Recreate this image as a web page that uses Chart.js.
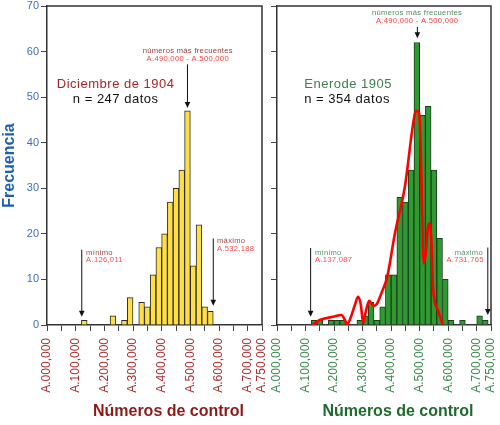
<!DOCTYPE html>
<html><head><meta charset="utf-8">
<script src="https://cdn.jsdelivr.net/npm/chart.js@4.4.0/dist/chart.umd.min.js"></script>
<style>
html,body{margin:0;padding:0;background:#fff;}
#wrap{position:relative;width:500px;height:425px;overflow:hidden;background:#fff;}
#c1{position:absolute;left:0;top:0;}
#c2{position:absolute;left:265px;top:0;}
</style></head><body>
<div id="wrap"><canvas id="c1" width="265" height="425"></canvas><canvas id="c2" width="235" height="425"></canvas></div>
<script>
// ---- data ----
const binWidth = 20000;
const decBinStarts = [120000,220000,260000,280000,320000,340000,360000,380000,400000,420000,440000,460000,480000,500000,520000,540000,560000];
const decCounts    = [1,2,1,6,5,4,11,17,20,27,30,34,47,13,22,4,3];
const janBinStarts = [120000,140000,180000,200000,220000,280000,300000,320000,340000,360000,380000,400000,420000,440000,460000,480000,500000,520000,540000,560000,580000,600000,640000,700000,720000];
const janCounts    = [1,1,1,1,1,1,2,5,1,4,11,11,28,27,34,62,46,48,34,19,10,1,1,2,1];
// red smoothed curve (December distribution overlaid on January)
const curveX = [122000,150000,197000,226000,238000,246000,255000,273000,284000,294000,302000,310000,323000,338000,350000,366000,386000,413000,448000,483000,490000,498000,503000,508000,514000,521000,529000,535000,541000,547000,564000,581000];
const curveY = [0,1.1,1.8,2.2,1.1,0.2,1.1,4.4,6.2,4.4,0.4,2.6,5.3,4.2,4.6,7,10.5,20,30.3,46.3,47,46.5,40,27,13.5,15.5,21.5,22.3,18.5,8,3.3,0];
const xTickMarks  = [0,50000,100000,150000,200000,250000,300000,350000,400000,450000,500000,550000,600000,650000,700000,750000];
const xTickValues = [0,100000,200000,300000,400000,500000,600000,700000,750000];
const xTickLabels = ['A.000,000','A.100,000','A.200,000','A.300,000','A.400,000','A.500,000','A.600,000','A.700,000','A.750,000'];
const yMax = 70, yStep = 10;

Chart.defaults.font.family = '"Liberation Sans", Arial, sans-serif';
Chart.defaults.animation = false;

function drawArrow(ctx, px, y1, y2) {
  ctx.save();
  ctx.strokeStyle = '#111'; ctx.fillStyle = '#111'; ctx.lineWidth = 1;
  ctx.beginPath(); ctx.moveTo(px, y1); ctx.lineTo(px, y2 - 5); ctx.stroke();
  ctx.beginPath(); ctx.moveTo(px - 2.8, y2 - 6); ctx.lineTo(px + 2.8, y2 - 6); ctx.lineTo(px, y2); ctx.closePath(); ctx.fill();
  ctx.restore();
}

function overlay(cfg) {
  return {
    id: 'overlay',
    afterDraw(chart) {
      const {ctx, chartArea: a} = chart;
      const x = chart.scales.x, y = chart.scales.y;
      ctx.save();
      ctx.strokeStyle = '#333'; ctx.lineWidth = 1.5;
      ctx.beginPath(); ctx.moveTo(a.left, a.top); ctx.lineTo(a.right, a.top); ctx.lineTo(a.right, a.bottom); ctx.stroke();
      cfg.arrows.forEach(r => drawArrow(ctx, x.getPixelForValue(r.x), y.getPixelForValue(r.from), y.getPixelForValue(r.to)));
      cfg.texts.forEach(t => {
        ctx.font = t.font; ctx.fillStyle = t.color; ctx.textAlign = t.align || 'left'; ctx.textBaseline = 'middle';
        if ('letterSpacing' in ctx) ctx.letterSpacing = t.ls || '0px';
        ctx.fillText(t.text, x.getPixelForValue(t.x), y.getPixelForValue(t.y));
      });
      if ('letterSpacing' in ctx) ctx.letterSpacing = '0px';
      ctx.font = 'bold 16px "Liberation Sans", Arial, sans-serif';
      ctx.fillStyle = cfg.titleColor; ctx.textAlign = 'center'; ctx.textBaseline = 'middle';
      ctx.fillText('Números de control', (a.left + a.right) / 2 + 14, chart.height - 13);
      ctx.restore();
    }
  };
}

function xScale(color) {
  return {
    type: 'linear', min: 0, max: 750000, offset: false,
    afterBuildTicks: s => { s.ticks = xTickMarks.map(v => ({value: v})); },
    afterFit: s => { s.height = 100; s.paddingLeft = 0; s.paddingRight = 0; },
    grid: {display: true, drawOnChartArea: false, drawTicks: true, tickLength: 6, tickColor: '#444', tickWidth: 1, offset: false},
    border: {display: true, color: '#333', width: 1.5},
    ticks: {autoSkip: false, minRotation: 90, maxRotation: 90, padding: 7, color: color,
      font: {size: 12},
      callback: v => { const i = xTickValues.indexOf(v); return i >= 0 ? xTickLabels[i] : ''; }}
  };
}

function yScale(showLabels, width) {
  return {
    type: 'linear', min: 0, max: yMax,
    afterFit: s => { s.width = width; s.paddingTop = 0; s.paddingBottom = 0; },
    grid: {display: true, drawOnChartArea: false, drawTicks: true, tickLength: 6, tickColor: '#444', tickWidth: 1},
    border: {display: true, color: '#333', width: 1.5},
    ticks: {stepSize: yStep, padding: 2, color: '#3b70c2', font: {size: 11},
      callback: v => showLabels ? String(v) : ''},
    title: {display: showLabels, text: 'Frecuencia', color: '#1f5fb0', font: {size: 16, weight: 'bold'}, padding: 0}
  };
}

const small = '7.6px "Liberation Sans", Arial, sans-serif';
const mid = '13px "Liberation Sans", Arial, sans-serif';

new Chart(document.getElementById('c1'), {
  type: 'bar',
  data: {datasets: [{
    data: decBinStarts.map((s, i) => ({x: s + binWidth / 2, y: decCounts[i]})),
    backgroundColor: '#ffdf45', borderColor: '#2a2a2a', borderWidth: 1,
    barPercentage: 1, categoryPercentage: 1
  }]},
  options: {
    responsive: false, animation: false,
    layout: {padding: {top: 6, right: 3, left: 0, bottom: 0}},
    plugins: {legend: {display: false}, tooltip: {enabled: false}},
    scales: {x: xScale('#a83232'), y: yScale(true, 47)}
  },
  plugins: [overlay({
    titleColor: '#8b1a1a',
    arrows: [{x: 490000, from: 57.2, to: 47.6}, {x: 121300, from: 16.5, to: 1.8}, {x: 580000, from: 19, to: 4.2}],
    texts: [
      {text: 'números más frecuentes', x: 491000, y: 60.2, font: small, color: '#a03a3a', align: 'center', ls: '0.3px'},
      {text: 'A.490,000 - A.500,000', x: 491000, y: 58.5, font: small, color: '#ff3b3b', align: 'center', ls: '0.3px'},
      {text: 'Diciembre de 1904', x: 239500, y: 52.7, font: mid, color: '#a0282c', align: 'center', ls: '0.5px'},
      {text: 'n = 247 datos', x: 239500, y: 49.6, font: mid, color: '#111', align: 'center', ls: '0.5px'},
      {text: 'mínimo', x: 136400, y: 15.9, font: small, color: '#a04848', align: 'left', ls: '0.3px'},
      {text: 'A.126,011', x: 136400, y: 14.3, font: small, color: '#ff4a4a', align: 'left', ls: '0.3px'},
      {text: 'máximo', x: 593000, y: 18.4, font: small, color: '#a04848', align: 'left', ls: '0.3px'},
      {text: 'A.532,188', x: 593000, y: 16.6, font: small, color: '#ff4a4a', align: 'left', ls: '0.3px'}
    ]
  })]
});

new Chart(document.getElementById('c2'), {
  type: 'bar',
  data: {datasets: [
    {type: 'line', data: curveX.map((v, i) => ({x: v, y: curveY[i]})),
     borderColor: '#ff0000', borderWidth: 2.6, pointRadius: 0, fill: false,
     cubicInterpolationMode: 'monotone', order: 0},
    {data: janBinStarts.map((s, i) => ({x: s + binWidth / 2, y: janCounts[i]})),
     backgroundColor: '#2f9a2f', borderColor: '#1d3d1d', borderWidth: 1,
     barPercentage: 1, categoryPercentage: 1, order: 1}
  ]},
  options: {
    responsive: false, animation: false,
    layout: {padding: {top: 6, right: 9, left: 0, bottom: 0}},
    plugins: {legend: {display: false}, tooltip: {enabled: false}},
    scales: {x: xScale('#3e8a4e'), y: yScale(false, 12)}
  },
  plugins: [overlay({
    titleColor: '#1e6b2e',
    arrows: [{x: 492000, from: 65.4, to: 62.9}, {x: 117800, from: 16.9, to: 1.8}, {x: 738800, from: 17, to: 2.2}],
    texts: [
      {text: 'números más frecuentes', x: 491000, y: 68.4, font: small, color: '#4e8a5e', align: 'center', ls: '0.3px'},
      {text: 'A.490,000 - A.500,000', x: 491000, y: 66.7, font: small, color: '#ff3b3b', align: 'center', ls: '0.3px'},
      {text: 'Enerode 1905', x: 95500, y: 52.7, font: mid, color: '#3d7d4d', align: 'left', ls: '0.5px'},
      {text: 'n = 354 datos', x: 95500, y: 49.6, font: mid, color: '#111', align: 'left', ls: '0.5px'},
      {text: 'mínimo', x: 132900, y: 15.9, font: small, color: '#5e8f6e', align: 'left', ls: '0.3px'},
      {text: 'A.137,087', x: 132900, y: 14.3, font: small, color: '#ff4a4a', align: 'left', ls: '0.3px'},
      {text: 'máximo', x: 722000, y: 15.9, font: small, color: '#5e8f6e', align: 'right', ls: '0.3px'},
      {text: 'A.731,765', x: 724800, y: 14.3, font: small, color: '#ff4a4a', align: 'right', ls: '0.3px'}
    ]
  })]
});
</script>
</body></html>
